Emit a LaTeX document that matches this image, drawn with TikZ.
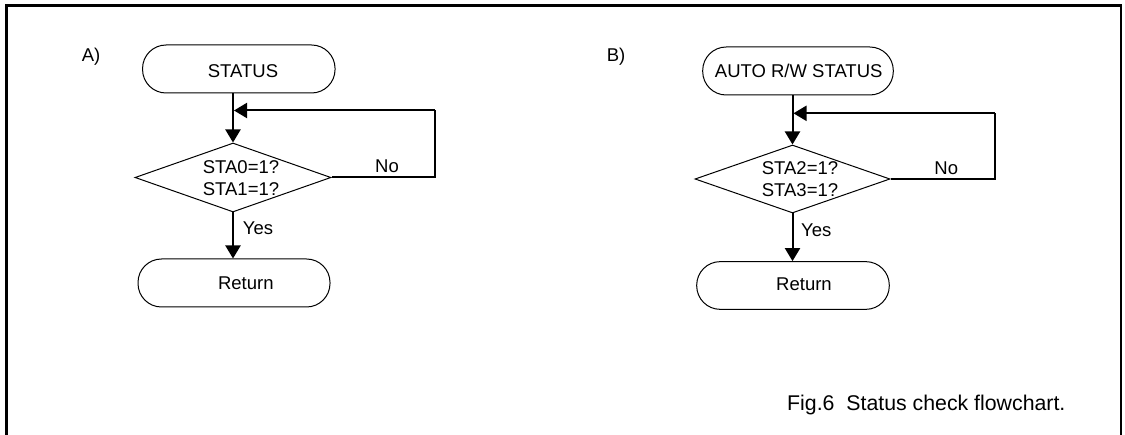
\documentclass[tikz,border=0pt]{standalone}
\usepackage{fontspec}
\setmainfont{Liberation Sans}
\usetikzlibrary{shapes.geometric,arrows.meta}
\begin{document}
\begin{tikzpicture}[x=1pt,y=-1pt,
  term/.style={draw, line width=1pt, rounded corners=23.5pt, minimum height=48pt, inner sep=0pt},
  decision/.style={draw, line width=1pt, diamond, inner sep=0pt},
  txt/.style={inner sep=0pt, font=\fontsize{18.5}{21.8}\selectfont},
  flow/.style={line width=2pt, -{Triangle[length=13pt,width=15pt]}},
  conn/.style={line width=2pt},
  frame/.style={line width=2.5pt}
]
\useasboundingbox (0,0) rectangle (1125,435);
\draw[frame] (6.7,445) -- (6.7,5.3) -- (1121,5.3) -- (1121,445);

% ---------- A ----------
\node[txt, anchor=base west] (labA) at (81.7,62) {A)};
\node[term, minimum width=192.5pt] (statusA) at (238.8,69) {};
\node[txt, anchor=base] (tstatusA) at (243,77.3) {STATUS};
\node[decision, minimum width=196pt, minimum height=69pt] (decA) at (233,177.5) {};
\node[txt, align=center] (tdecA) at (241,178.4) {STA0=1?\\STA1=1?};
\node[term, minimum width=192pt] (retA) at (234,283) {};
\node[txt, anchor=base] (tretA) at (245.8,289.3) {Return};
\coordinate (cornerA) at (435,110.5);

\draw[flow] (decA.north |- statusA.south) -- (decA.north);
\draw[conn] (decA.east) -- (cornerA |- decA.east) -- (cornerA);
\draw[flow] (cornerA) -- ([xshift=1pt]decA.north |- cornerA);
\draw[flow] (decA.south) -- (decA.south |- retA.north);
\node[txt, anchor=base] (noA) at (387,172.7) {No};
\node[txt, anchor=base west] (yesA) at (242.7,235) {Yes};

% ---------- B ----------
\node[txt, anchor=base west] (labB) at (606.7,62) {B)};
\node[term, minimum width=190.6pt] (statusB) at (798,71) {};
\node[txt, anchor=base] (tstatusB) at (798.7,77.7) {AUTO R/W STATUS};
\node[decision, minimum width=195pt, minimum height=68pt] (decB) at (792.5,179) {};
\node[txt, align=center] (tdecB) at (800,179.4) {STA2=1?\\STA3=1?};
\node[term, minimum width=192.6pt, minimum height=47.7pt] (retB) at (793,285.5) {};
\node[txt, anchor=base] (tretB) at (804,291) {Return};
\coordinate (cornerB) at (995,113.3);

\draw[flow] (decB.north |- statusB.south) -- (decB.north);
\draw[conn] (decB.east) -- (cornerB |- decB.east) -- (cornerB);
\draw[flow] (cornerB) -- ([xshift=1pt]decB.north |- cornerB);
\draw[flow] (decB.south) -- (decB.south |- retB.north);
\node[txt, anchor=base] (noB) at (946.3,175) {No};
\node[txt, anchor=base west] (yesB) at (801,236.7) {Yes};

% ---------- caption ----------
\node[inner sep=0pt, anchor=base west, font=\fontsize{21.3}{25}\selectfont] (cap) at (787,410.5) {Fig.6\ \ Status check flowchart.};
\end{tikzpicture}
\end{document}
